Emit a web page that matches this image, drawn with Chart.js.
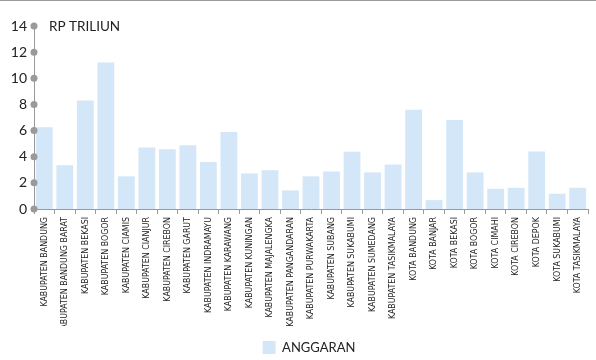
<!DOCTYPE html>
<html>
<head>
<meta charset="utf-8">
<script src="https://cdn.jsdelivr.net/npm/chart.js@4"></script>
<style>
  html, body { margin: 0; padding: 0; background: #fff; }
  #wrap { width: 596px; height: 360px; }
</style>
</head>
<body>
<div id="wrap"><canvas id="chart" width="596" height="360"></canvas></div>
<script>
// data (Rp triliun)
const regions = [
  'KABUPATEN BANDUNG', 'KABUPATEN BANDUNG BARAT', 'KABUPATEN BEKASI', 'KABUPATEN BOGOR',
  'KABUPATEN CIAMIS', 'KABUPATEN CIANJUR', 'KABUPATEN CIREBON', 'KABUPATEN GARUT',
  'KABUPATEN INDRAMAYU', 'KABUPATEN KARAWANG', 'KABUPATEN KUNINGAN', 'KABUPATEN MAJALENGKA',
  'KABUPATEN PANGANDARAN', 'KABUPATEN PURWAKARTA', 'KABUPATEN SUBANG', 'KABUPATEN SUKABUMI',
  'KABUPATEN SUMEDANG', 'KABUPATEN TASIKMALAYA', 'KOTA BANDUNG', 'KOTA BANJAR',
  'KOTA BEKASI', 'KOTA BOGOR', 'KOTA CIMAHI', 'KOTA CIREBON',
  'KOTA DEPOK', 'KOTA SUKABUMI', 'KOTA TASIKMALAYA'
];
const anggaran = [
  6.25, 3.35, 8.3, 11.2,
  2.5, 4.7, 4.57, 4.87,
  3.6, 5.9, 2.72, 2.97,
  1.42, 2.5, 2.87, 4.38,
  2.8, 3.4, 7.6, 0.68,
  6.8, 2.8, 1.55, 1.62,
  4.4, 1.17, 1.62
];
const yTicks = [0, 2, 4, 6, 8, 10, 12, 14];
const seriesName = 'ANGGARAN';
const unitLabel = 'RP TRILIUN';

const axisGrey = '#9a9a9a';
const barBlue = '#d4e7f8';
const textCol = '#222';

// top rule, tick dots on the y axis, unit label, legend nudge
const decorPlugin = {
  id: 'decor',
  afterLayout(chart) {
    // the legend in the original sits a little right of centre and lower
    const lg = chart.legend;
    if (lg) { lg.left += 15; lg.right += 15; lg.top += 11; lg.bottom += 11; }
  },
  beforeDraw(chart) {
    const c = chart.ctx;
    c.save();
    c.strokeStyle = axisGrey;
    c.lineWidth = 1;
    c.beginPath();
    c.moveTo(0, 0.5);
    c.lineTo(chart.width, 0.5);
    c.stroke();
    c.restore();
  },
  afterDraw(chart) {
    const c = chart.ctx;
    const y = chart.scales.y;
    const x0 = chart.chartArea.left;
    c.save();
    c.fillStyle = axisGrey;
    yTicks.forEach(v => {
      c.beginPath();
      c.arc(x0, y.getPixelForValue(v), 3.5, 0, Math.PI * 2);
      c.fill();
    });
    c.fillStyle = textCol;
    c.font = '13.5px Lato, "Noto Sans", sans-serif';
    c.textBaseline = 'middle';
    c.fillText(unitLabel, x0 + 15, y.getPixelForValue(14) + 1);
    c.restore();
  }
};

new Chart(document.getElementById('chart').getContext('2d'), {
  type: 'bar',
  data: {
    labels: regions,
    datasets: [{
      label: seriesName,
      data: anggaran,
      backgroundColor: barBlue,
      borderWidth: 0,
      barPercentage: 0.82,
      categoryPercentage: 1
    }]
  },
  options: {
    responsive: false,
    animation: false,
    layout: { padding: { top: 26, right: 8, left: 0, bottom: 7 } },
    plugins: {
      legend: {
        position: 'bottom',
        labels: {
          boxWidth: 13, boxHeight: 13, padding: 4,
          color: textCol,
          font: { size: 13, family: 'Lato, "Noto Sans", sans-serif' }
        }
      },
      tooltip: { enabled: false }
    },
    scales: {
      x: {
        offset: true,
        grid: { display: true, drawOnChartArea: false, offset: true, tickLength: 5, color: axisGrey },
        border: { display: true, color: axisGrey },
        ticks: {
          autoSkip: false, minRotation: 90, maxRotation: 90, padding: 3,
          color: textCol,
          font: { size: 8.8, family: '"Liberation Sans Narrow", "DejaVu Sans Condensed", sans-serif' }
        },
        afterFit(scale) { scale.height = 117; }
      },
      y: {
        min: 0, max: 14,
        grid: { display: false, drawTicks: false },
        border: { display: true, color: axisGrey },
        ticks: {
          stepSize: 2, padding: 7,
          color: textCol,
          font: { size: 14, family: 'Lato, "Noto Sans", sans-serif' }
        },
        afterFit(scale) { scale.width = 34; }
      }
    }
  },
  plugins: [decorPlugin]
});
</script>
</body>
</html>
